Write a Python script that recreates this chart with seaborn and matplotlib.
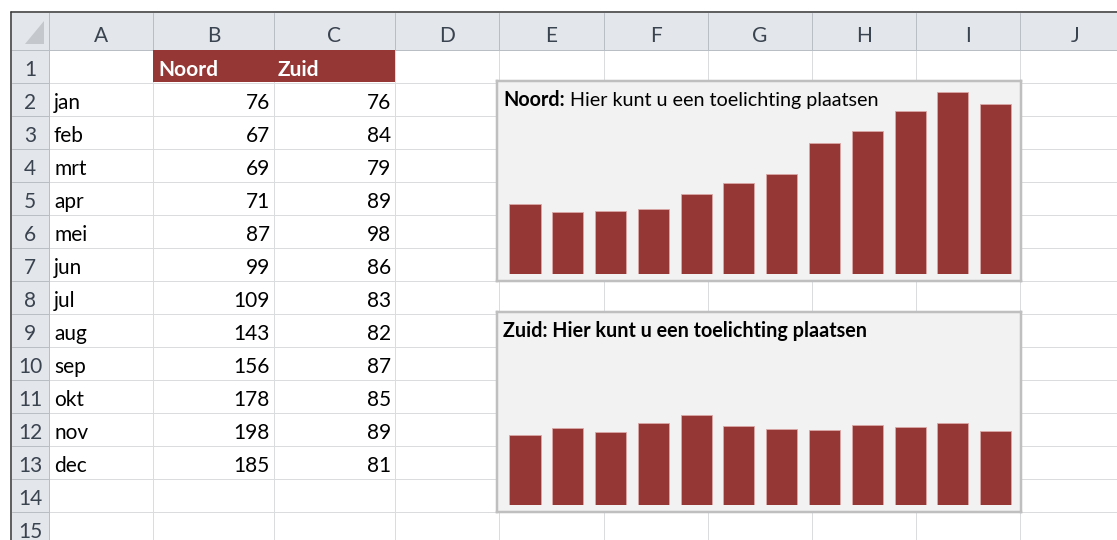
import matplotlib
matplotlib.use("Agg")
import matplotlib.pyplot as plt
import matplotlib.patches as mpatches
import seaborn as sns

months = ["jan", "feb", "mrt", "apr", "mei", "jun", "jul", "aug", "sep", "okt", "nov", "dec"]
noord = [76, 67, 69, 71, 87, 99, 109, 143, 156, 178, 198, 185]
zuid = [76, 84, 79, 89, 98, 86, 83, 82, 87, 85, 89, 81]
col_letters = ["A", "B", "C", "D", "E", "F", "G", "H", "I", "J"]
headers = ["Noord", "Zuid"]
note = "Hier kunt u een toelichting plaatsen"

W, H = 1117, 540
RED = "#953735"
FONT = "Lato"
PX = 0.72  # points per pixel at dpi 100
FS = 15

sns.set_theme(style="white")
plt.rcParams["font.family"] = [FONT, "DejaVu Sans"]


def frac(x0, y0, x1, y1):
    return [x0 / W, 1 - y1 / H, (x1 - x0) / W, (y1 - y0) / H]


fig = plt.figure(figsize=(W / 100, H / 100), dpi=100)
bg = fig.add_axes([0, 0, 1, 1])
bg.set_xlim(0, W)
bg.set_ylim(H, 0)
bg.axis("off")

col_edges = [12, 49, 153, 274, 395, 499, 604, 708, 812, 916, 1020, 1130]
row_h = 33
row_top = 49.7
row_edges = [row_top + row_h * k for k in range(16)]

# header band and row-number band
hdr = "#e3e6ea"
bg.add_patch(mpatches.Rectangle((12, 13), W, row_top - 13, color=hdr, lw=0))
bg.add_patch(mpatches.Rectangle((12, 13), 37, H, color=hdr, lw=0))

# cell grid
for x in col_edges[2:]:
    bg.plot([x, x], [row_top, H], color="#dadcdd", lw=1 * PX)
for y in row_edges[1:]:
    bg.plot([49, W], [y, y], color="#dadcdd", lw=1 * PX)
# header separators
for x in col_edges[1:]:
    bg.plot([x, x], [13, row_top], color="#b9bec4", lw=1 * PX)
for y in row_edges:
    bg.plot([12, 49], [y, y], color="#b9bec4", lw=1 * PX)
bg.plot([12, W], [row_top, row_top], color="#b9bec4", lw=1 * PX)
bg.plot([49, 49], [13, H], color="#b9bec4", lw=1 * PX)

# corner triangle
bg.add_patch(mpatches.Polygon([(44, 21), (44, 44), (25, 44)], color="#c4c7cb", lw=0))

# outer frame
bg.plot([11, W], [12, 12], color="#3a3a3a", lw=1.6 * PX)
bg.plot([11, 11], [12, H], color="#3a3a3a", lw=1.6 * PX)

# column letters
for i, letter in enumerate(col_letters):
    cx = (col_edges[i + 1] + col_edges[i + 2]) / 2
    bg.text(cx, 42, letter, ha="center", va="baseline", fontsize=FS, color="#3a4350")
# row numbers
for r in range(15):
    bg.text(30, row_edges[r + 1] - 6.5, str(r + 1), ha="center", va="baseline",
            fontsize=FS, color="#3a4350")

# header cells
bg.add_patch(mpatches.Rectangle((153, row_top + 0.5), 395 - 153, row_h - 1, color=RED,
                                lw=0, zorder=5))
bg.text(158, row_edges[1] - 6.5, headers[0], ha="left", va="baseline", fontsize=FS,
        color="white", fontweight="bold", zorder=6)
bg.text(278, row_edges[1] - 6.5, headers[1], ha="left", va="baseline", fontsize=FS,
        color="white", fontweight="bold", zorder=6)

# data cells
for i, m in enumerate(months):
    yb = row_edges[i + 2] - 6.5
    bg.text(54, yb, m, ha="left", va="baseline", fontsize=FS, color="black")
    bg.text(270, yb, str(noord[i]), ha="right", va="baseline", fontsize=FS, color="black")
    bg.text(391, yb, str(zuid[i]), ha="right", va="baseline", fontsize=FS, color="black")


def chart(top, values, region, bold_all):
    box = fig.add_axes(frac(497, top, 1021, top + 200))
    box.set_facecolor("#f2f2f2")
    box.set_xticks([])
    box.set_yticks([])
    for s in box.spines.values():
        s.set_color("#bfbfbf")
        s.set_linewidth(2.5 * PX)
    base = top + 193
    ax = fig.add_axes(frac(503.6, base - 0.918 * 200, 1017.1, base))
    ax.patch.set_alpha(0)
    sns.barplot(x=months, y=values, ax=ax, color=RED, saturation=1, width=0.725,
                edgecolor="#d9a8a7", linewidth=0.6)
    ax.set_ylim(0, 200)
    ax.set_xlim(-0.5, len(months) - 0.5)
    ax.axis("off")
    ty = top + 25.4
    if bold_all:
        fig.text(503 / W, 1 - ty / H, region + ": " + note, fontsize=14.2,
                 fontweight="bold", va="baseline", ha="left", color="black")
    else:
        t = fig.text(503 / W, 1 - ty / H, region + ":", fontsize=14.2,
                     fontweight="bold", va="baseline", ha="left", color="black")
        fig.canvas.draw()
        bb = t.get_window_extent()
        fig.text((bb.x1 + 5) / W, 1 - ty / H, note, fontsize=14.2,
                 va="baseline", ha="left", color="black")


chart(81, noord, headers[0], False)
chart(312, zuid, headers[1], True)

fig.savefig("out.png", dpi=100)
